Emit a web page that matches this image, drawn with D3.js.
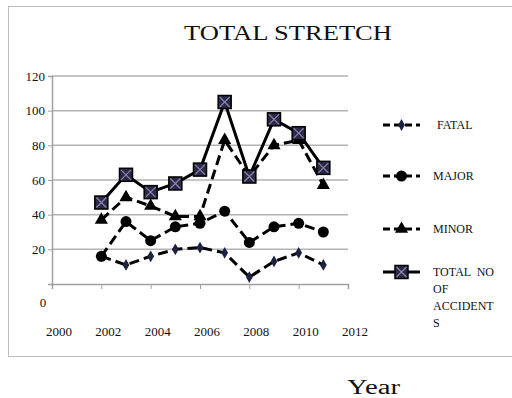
<!DOCTYPE html>
<html>
<head>
<meta charset="utf-8">
<script src="https://cdn.jsdelivr.net/npm/d3@7"></script>
<style>
  body { margin: 0; background: #fff; }
  svg text { font-family: "Liberation Serif", "DejaVu Serif", serif; fill: #111; }
</style>
</head>
<body>
<svg id="chart" width="512" height="398"></svg>
<script>
// data
const years = [2002, 2003, 2004, 2005, 2006, 2007, 2008, 2009, 2010, 2011]
const fatal = [16, 11, 16, 20, 21, 18, 4, 13, 18, 11]
const major = [16, 36, 25, 33, 35, 42, 24, 33, 35, 30]
const minor = [37, 50, 45, 39, 39, 83, 62, 80, 83, 57]
const total = [47, 63, 53, 58, 66, 105, 62, 95, 87, 67]
const yTicks = [20, 40, 60, 80, 100, 120]
const xTicks = [2000, 2002, 2004, 2006, 2008, 2010, 2012]
const legendNames = ['FATAL', 'MAJOR', 'MINOR', 'TOTAL NO OF ACCIDENTS']

const serif = '"Liberation Serif", "DejaVu Serif", serif'
const svg = d3.select('#chart').attr('font-family', serif)

// frame round the chart
svg.append('rect')
    .attr('x', 8.5).attr('y', 6.5)
    .attr('width', 520).attr('height', 350)
    .attr('fill', '#fff')
    .attr('stroke', '#bdbdbd')

const xScale = d3.scaleLinear().domain([2000, 2012]).range([52, 348])
const yScale = d3.scaleLinear().domain([0, 120]).range([284, 76])

svg.append('text')
    .attr('x', 288).attr('y', 40)
    .attr('text-anchor', 'middle')
    .attr('font-size', 20)
    .attr('textLength', 208)
    .attr('lengthAdjust', 'spacingAndGlyphs')
    .text('TOTAL STRETCH')

// gridlines
svg.append('g').selectAll('line')
    .data(yTicks)
    .enter().append('line')
        .attr('x1', xScale(2000)).attr('x2', xScale(2012))
        .attr('y1', d => yScale(d)).attr('y2', d => yScale(d))
        .attr('stroke', '#b3b3b3')
        .attr('stroke-width', 1.5)

// y axis
const yAxis = svg.append('g')
    .attr('transform', `translate(${xScale(2000)},0)`)
    .call(d3.axisLeft(yScale).tickValues(yTicks).tickSize(4).tickPadding(3))
    .attr('font-family', serif)
    .attr('font-size', 13)
yAxis.select('.domain').attr('stroke', '#a0a0a0').attr('stroke-width', 1.5)
yAxis.selectAll('.tick line').attr('stroke', '#a0a0a0')
yAxis.selectAll('.tick text').attr('fill', '#111')

// the lone zero sits below the axis
svg.append('text')
    .attr('x', 43).attr('y', yScale(0) + 23)
    .attr('text-anchor', 'middle')
    .attr('font-size', 13)
    .text('0')

// x axis
const xAxis = svg.append('g')
    .attr('transform', `translate(0,${yScale(0)})`)
    .call(d3.axisBottom(xScale).tickValues(xTicks).tickSize(5).tickFormat(''))
xAxis.select('.domain').attr('stroke', '#a0a0a0').attr('stroke-width', 1.5)
xAxis.selectAll('.tick line').attr('stroke', '#a0a0a0')

svg.append('g').selectAll('text')
    .data(xTicks)
    .enter().append('text')
        .attr('x', d => xScale(d) + 7)
        .attr('y', 336)
        .attr('text-anchor', 'middle')
        .attr('font-size', 13)
        .text(d => d)

svg.append('text')
    .attr('x', 347).attr('y', 394)
    .attr('font-size', 20)
    .attr('textLength', 53)
    .attr('lengthAdjust', 'spacingAndGlyphs')
    .text('Year')

// series
const series = [
    { name: legendNames[0], values: fatal, dash: '10,5', marker: 'diamond' },
    { name: legendNames[1], values: major, dash: '10,5', marker: 'circle' },
    { name: legendNames[2], values: minor, dash: '10,5', marker: 'triangle' },
    { name: legendNames[3], values: total, dash: null, marker: 'square' }
]

const line = d3.line()
    .x((d, i) => xScale(years[i]))
    .y(d => yScale(d))

const drawMarker = (g, type) => {
    if (type === 'diamond') {
        g.append('path')
            .attr('d', d3.symbol(d3.symbolDiamond, 40)())
            .attr('fill', '#1c2340')
    } else if (type === 'circle') {
        g.append('circle').attr('r', 5.5).attr('fill', '#000')
    } else if (type === 'triangle') {
        g.append('path')
            .attr('d', d3.symbol(d3.symbolTriangle, 75)())
            .attr('fill', '#000')
    } else {
        g.append('rect')
            .attr('x', -6.5).attr('y', -6.5)
            .attr('width', 13).attr('height', 13)
            .attr('fill', '#2a2a48')
            .attr('stroke', '#000')
            .attr('stroke-width', 1.5)
        g.append('path')
            .attr('d', 'M-5,-5L5,5M-5,5L5,-5')
            .attr('stroke', '#8a86a8')
            .attr('stroke-width', 1.2)
    }
}

series.forEach(s => {
    svg.append('path')
        .datum(s.values)
        .attr('d', line)
        .attr('fill', 'none')
        .attr('stroke', '#000')
        .attr('stroke-width', 3)
        .attr('stroke-dasharray', s.dash)
    svg.append('g').selectAll('g')
        .data(s.values)
        .enter().append('g')
            .attr('transform', (d, i) => `translate(${xScale(years[i])},${yScale(d)})`)
            .each(function () { drawMarker(d3.select(this), s.marker) })
})

// legend
const legendY = [125, 176, 229, 272]
series.forEach((s, i) => {
    const g = svg.append('g').attr('transform', `translate(383,${legendY[i]})`)
    g.append('line')
        .attr('x1', 0).attr('x2', 37)
        .attr('stroke', '#000')
        .attr('stroke-width', 3)
        .attr('stroke-dasharray', s.dash ? '7,4' : null)
    const m = g.append('g').attr('transform', 'translate(18.5,0)')
    drawMarker(m, s.marker)
    const lines = i === 3 ? ['TOTAL  NO', 'OF', 'ACCIDENT', 'S'] : [s.name]
    lines.forEach((t, j) => {
        g.append('text')
            .attr('x', i === 0 ? 54 : 50)
            .attr('y', 4 + j * 17)
            .attr('font-size', 12)
            .attr('xml:space', 'preserve')
            .style('white-space', 'pre')
            .text(t)
    })
})
</script>
</body>
</html>
